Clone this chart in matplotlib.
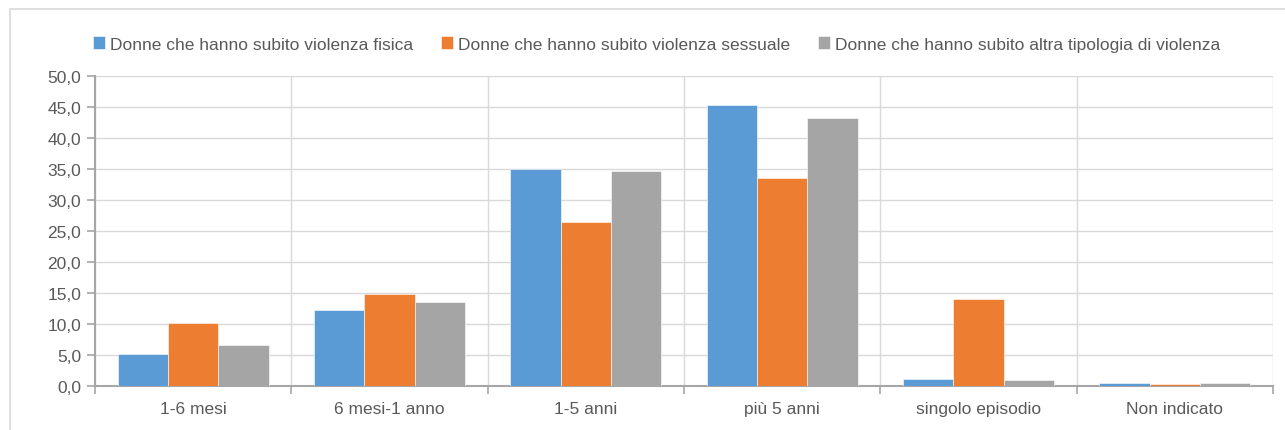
import matplotlib
matplotlib.use("Agg")
import matplotlib.pyplot as plt
from matplotlib.patches import Rectangle
import numpy as np

plt.rcParams['font.family'] = ['Liberation Sans', 'DejaVu Sans']
fsize = 12.5

categories = ["1-6 mesi", "6 mesi-1 anno", "1-5 anni", "più 5 anni", "singolo episodio", "Non indicato"]
fisica = [5.1, 12.2, 35.0, 45.4, 1.1, 0.5]
sessuale = [10.1, 14.9, 26.5, 33.5, 14.1, 0.4]
altra = [6.6, 13.6, 34.6, 43.2, 0.9, 0.5]
series_names = [
    "Donne che hanno subito violenza fisica",
    "Donne che hanno subito violenza sessuale",
    "Donne che hanno subito altra tipologia di violenza",
]
colors = ["#5B9BD5", "#ED7D31", "#A5A5A5"]
y_ticks = [0, 5, 10, 15, 20, 25, 30, 35, 40, 45, 50]

W, H = 1285, 431
fig = plt.figure(figsize=(W / 100, H / 100), dpi=100)
fig.patch.set_facecolor("white")

# outer chart frame
fig.patches.append(Rectangle((10 / W, -0.1), 1.2, 1 - 10 / H + 0.1,
                             transform=fig.transFigure, fill=False,
                             edgecolor="#d9d9d9", linewidth=1.2))

left, right, top, bottom = 95, 1273, 77, 387
ax = fig.add_axes([left / W, 1 - bottom / H, (right - left) / W, (bottom - top) / H])

x = np.arange(len(categories))
bw = 0.256
for i, (vals, name, c) in enumerate(zip([fisica, sessuale, altra], series_names, colors)):
    ax.bar(x + (i - 1) * bw, vals, width=bw, color=c, label=name,
           edgecolor="white", linewidth=0.4, zorder=3)

ax.set_xlim(-0.5, len(categories) - 0.5)
ax.set_ylim(0, 50)
ax.set_yticks(y_ticks)
ax.set_yticklabels([f"{v:.1f}".replace(".", ",") for v in y_ticks])

ax.set_xticks(np.arange(-0.5, len(categories), 1.0))
ax.set_xticklabels([])
ax.set_xticks(x, minor=True)
ax.set_xticklabels(categories, minor=True)
ax.tick_params(axis="x", which="minor", length=0, pad=11, labelsize=fsize, colors="#595959")
ax.tick_params(axis="x", which="major", length=6, color="#a6a6a6", width=1.2)
ax.tick_params(axis="y", length=6, color="#a6a6a6", width=1.2, labelsize=fsize,
               labelcolor="#595959", pad=4)

ax.grid(True, axis="both", which="major", color="#d9d9d9", linewidth=1.0, zorder=0)
ax.set_axisbelow(True)
for s in ["top", "right"]:
    ax.spines[s].set_visible(False)
for s in ["left", "bottom"]:
    ax.spines[s].set_color("#a6a6a6")
    ax.spines[s].set_linewidth(1.5)

leg = fig.legend(loc="center", bbox_to_anchor=(0.511, 1 - 45 / H), ncol=3, frameon=False,
                 fontsize=fsize, handlelength=0.7, handleheight=0.7, handletextpad=0.3,
                 columnspacing=1.6, labelcolor="#595959")

fig.savefig("out.png", dpi=100, facecolor="white")
